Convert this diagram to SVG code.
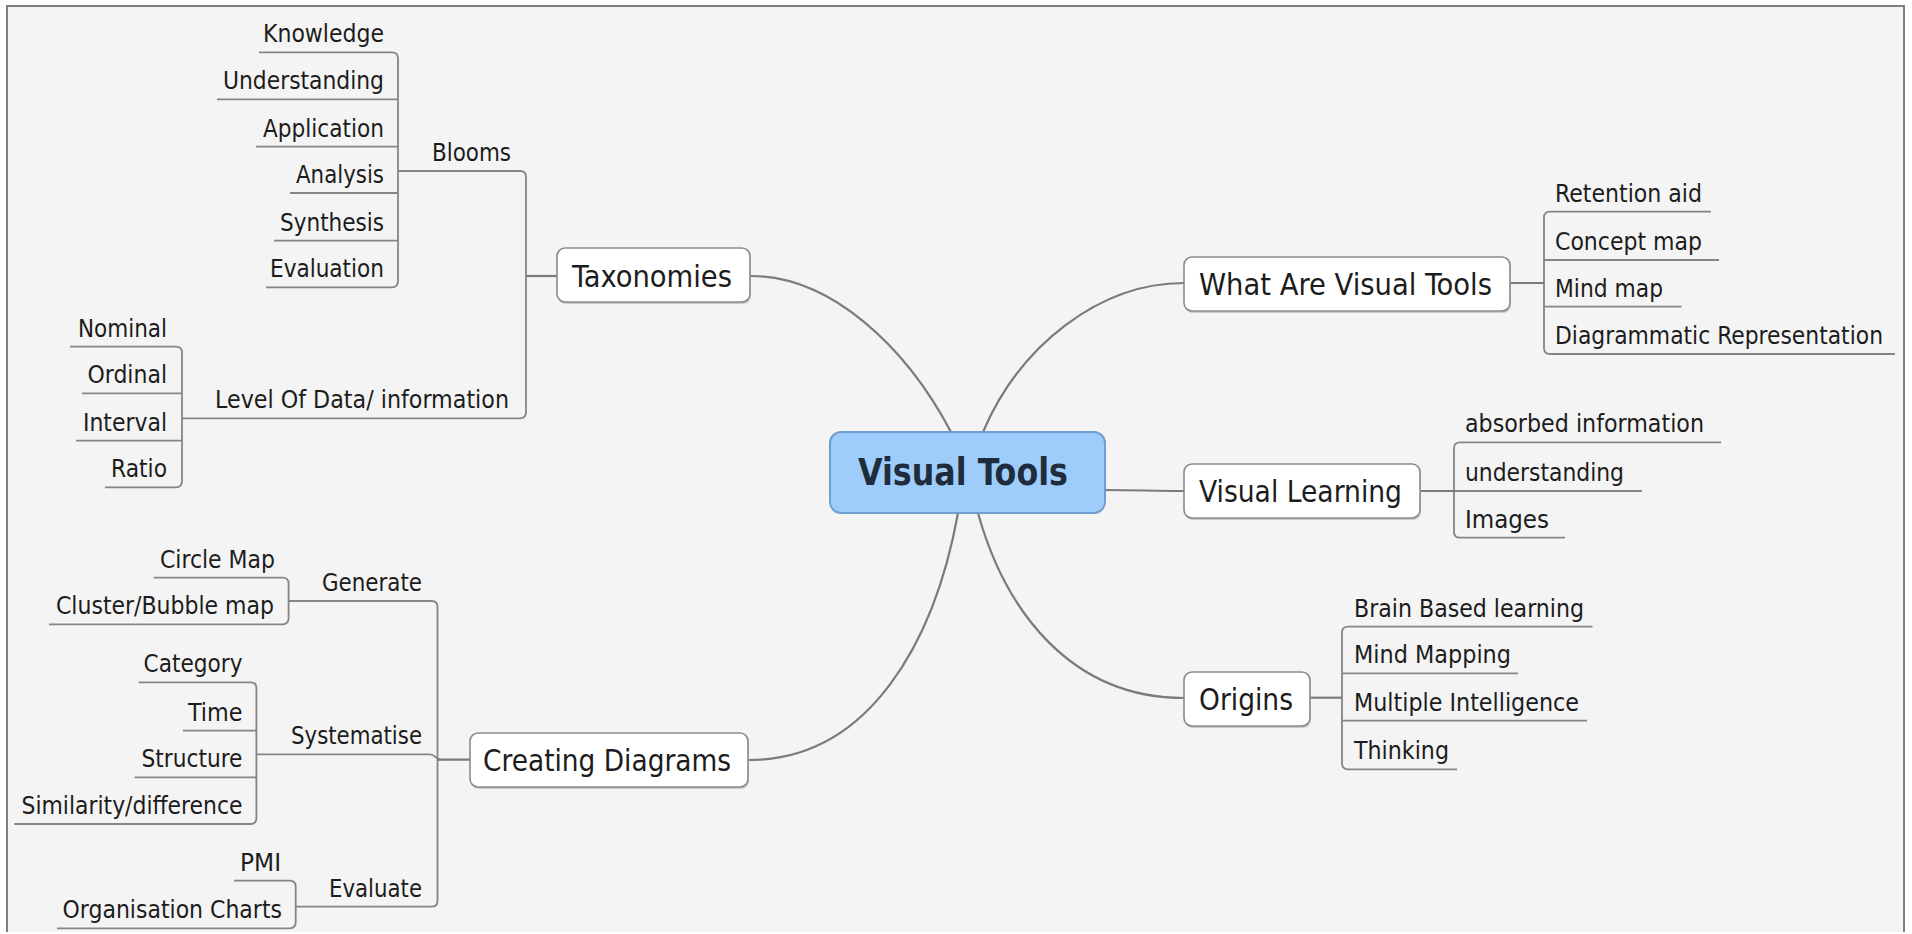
<svg xmlns="http://www.w3.org/2000/svg" width="1912" height="934" viewBox="0 0 1912 934">
<style>
text{font-family:"DejaVu Sans Condensed","DejaVu Sans","Liberation Sans",sans-serif;font-stretch:condensed;fill:#1c1c1c}
.lf{font-size:25px}
.lt{font-size:25px;text-anchor:end}
.mn{font-size:30px}
.ct{font-size:37px;font-weight:bold;fill:#1f2c3c;text-anchor:middle}
.ln{fill:none;stroke:#7b7b7b;stroke-width:2.2}
.ul{fill:none;stroke:#858585;stroke-width:1.8}
.box{fill:#ffffff;stroke:#8a8a8a;stroke-width:1.6}
.sh{fill:#c9c9c9}
</style>
<rect x="0" y="0" width="1912" height="934" fill="#ffffff"/>
<rect x="7" y="6" width="1897" height="926" fill="#f4f4f4"/>
<path d="M7 932 V6 H1904 V932" fill="none" stroke="#7f7f7f" stroke-width="2"/>
<g id="connectors">
<path class="ln" d="M951 432 C905 345 830 276 751 276"/>
<path class="ln" d="M983 432 C1020 345 1100 283 1184 283"/>
<path class="ln" d="M1105 490 C1140 490 1150 491 1184 491"/>
<path class="ln" d="M978 513 C1005 610 1070 698 1184 698"/>
<path class="ln" d="M958 513 C935 640 870 760 749 760"/>
<path class="ul" d="M259 52.3 H392 Q398 52.3 398 58.3 V281.3 Q398 287.3 392 287.3 H266"/>
<path class="ul" d="M217 99.3 H398 M256 146.7 H398 M290 193 H398 M274 240.7 H398"/>
<path class="ul" d="M398 171 H520 Q526 171 526 177 V412.3 Q526 418.3 520 418.3 H182"/>
<path class="ln" d="M526 276 H557"/>
<path class="ul" d="M70 346.7 H176 Q182 346.7 182 352.7 V481.3 Q182 487.3 176 487.3 H105"/>
<path class="ul" d="M82 393.3 H182 M76 440.7 H182"/>
<path class="ul" d="M288.6 601 H431.5 Q437.5 601 437.5 607 V900.7 Q437.5 906.7 431.5 906.7 H295.7"/>
<path class="ul" d="M256.4 754.3 H430 C435 754.3 436 759.7 441 759.7"/>
<path class="ln" d="M437.5 759.7 H470"/>
<path class="ul" d="M153.6 577.7 H282.6 Q288.6 577.7 288.6 583.7 V618.3 Q288.6 624.3 282.6 624.3 H49"/>
<path class="ul" d="M138.6 682.3 H250.4 Q256.4 682.3 256.4 688.3 V818 Q256.4 824 250.4 824 H14.3"/>
<path class="ul" d="M183 730.7 H256.4 M134.6 777.3 H256.4"/>
<path class="ul" d="M234 880.7 H289.7 Q295.7 880.7 295.7 886.7 V922.3 Q295.7 928.3 289.7 928.3 H57"/>
<path class="ul" d="M1711 211.7 H1550 Q1544 211.7 1544 217.7 V348 Q1544 354 1550 354 H1895"/>
<path class="ul" d="M1544 260 H1719 M1544 306.7 H1681.5"/>
<path class="ln" d="M1510 283 H1544"/>
<path class="ul" d="M1721 442.3 H1460 Q1454 442.3 1454 448.3 V531.7 Q1454 537.7 1460 537.7 H1565"/>
<path class="ul" d="M1454 491 H1642"/>
<path class="ln" d="M1420 491 H1454"/>
<path class="ul" d="M1592.5 626.7 H1348 Q1342 626.7 1342 632.7 V763.3 Q1342 769.3 1348 769.3 H1457"/>
<path class="ul" d="M1342 673.3 H1518 M1342 720.7 H1587"/>
<path class="ln" d="M1310 697.7 H1342"/>
</g>
<g id="center">
<rect x="830" y="432" width="275" height="81" rx="11" fill="#9fcdfb" stroke="#6f9fd0" stroke-width="2"/>
<text class="ct" x="963" y="485" textLength="210" lengthAdjust="spacingAndGlyphs">Visual Tools</text>
</g>
<g id="taxonomies">
<rect class="sh" x="558" y="250" width="193" height="54" rx="8"/>
<rect class="box" x="557" y="248" width="193" height="54" rx="8"/>
<text class="mn" x="572" y="287" textLength="160" lengthAdjust="spacingAndGlyphs">Taxonomies</text>
</g>
<g id="what-are-visual-tools">
<rect class="sh" x="1185" y="259" width="326" height="54" rx="8"/>
<rect class="box" x="1184" y="257" width="326" height="54" rx="8"/>
<text class="mn" x="1199" y="295" textLength="293" lengthAdjust="spacingAndGlyphs">What Are Visual Tools</text>
</g>
<g id="visual-learning">
<rect class="sh" x="1185" y="466" width="236" height="54" rx="8"/>
<rect class="box" x="1184" y="464" width="236" height="54" rx="8"/>
<text class="mn" x="1199" y="502" textLength="203" lengthAdjust="spacingAndGlyphs">Visual Learning</text>
</g>
<g id="origins">
<rect class="sh" x="1185" y="674" width="126" height="54" rx="8"/>
<rect class="box" x="1184" y="672" width="126" height="54" rx="8"/>
<text class="mn" x="1199" y="710" textLength="94" lengthAdjust="spacingAndGlyphs">Origins</text>
</g>
<g id="creating-diagrams">
<rect class="sh" x="471" y="735" width="278" height="54" rx="8"/>
<rect class="box" x="470" y="733" width="278" height="54" rx="8"/>
<text class="mn" x="483" y="771" textLength="248" lengthAdjust="spacingAndGlyphs">Creating Diagrams</text>
</g>
<g id="blooms"><text class="lt" x="511" y="161" textLength="79" lengthAdjust="spacingAndGlyphs">Blooms</text></g>
<g id="knowledge"><text class="lt" x="384" y="42.3" textLength="121" lengthAdjust="spacingAndGlyphs">Knowledge</text></g>
<g id="understanding-b"><text class="lt" x="384" y="89.3" textLength="161" lengthAdjust="spacingAndGlyphs">Understanding</text></g>
<g id="application"><text class="lt" x="384" y="136.7" textLength="121" lengthAdjust="spacingAndGlyphs">Application</text></g>
<g id="analysis"><text class="lt" x="384" y="183" textLength="88" lengthAdjust="spacingAndGlyphs">Analysis</text></g>
<g id="synthesis"><text class="lt" x="384" y="230.7" textLength="104" lengthAdjust="spacingAndGlyphs">Synthesis</text></g>
<g id="evaluation"><text class="lt" x="384" y="277.3" textLength="114" lengthAdjust="spacingAndGlyphs">Evaluation</text></g>
<g id="level-of-data"><text class="lt" x="509" y="408.3" textLength="294" lengthAdjust="spacingAndGlyphs">Level Of Data/ information</text></g>
<g id="nominal"><text class="lt" x="167" y="336.7" textLength="89" lengthAdjust="spacingAndGlyphs">Nominal</text></g>
<g id="ordinal"><text class="lt" x="167" y="383.3" textLength="79.5" lengthAdjust="spacingAndGlyphs">Ordinal</text></g>
<g id="interval"><text class="lt" x="167" y="430.7" textLength="84" lengthAdjust="spacingAndGlyphs">Interval</text></g>
<g id="ratio"><text class="lt" x="167" y="477.3" textLength="56" lengthAdjust="spacingAndGlyphs">Ratio</text></g>
<g id="generate"><text class="lt" x="422" y="591" textLength="100" lengthAdjust="spacingAndGlyphs">Generate</text></g>
<g id="circle-map"><text class="lt" x="275" y="567.7" textLength="115" lengthAdjust="spacingAndGlyphs">Circle Map</text></g>
<g id="cluster-bubble-map"><text class="lt" x="274" y="614.3" textLength="218" lengthAdjust="spacingAndGlyphs">Cluster/Bubble map</text></g>
<g id="systematise"><text class="lt" x="422" y="744.3" textLength="131" lengthAdjust="spacingAndGlyphs">Systematise</text></g>
<g id="category"><text class="lt" x="242.5" y="672.3" textLength="99" lengthAdjust="spacingAndGlyphs">Category</text></g>
<g id="time"><text class="lt" x="242.5" y="720.7" textLength="54.5" lengthAdjust="spacingAndGlyphs">Time</text></g>
<g id="structure"><text class="lt" x="242.5" y="767.3" textLength="101" lengthAdjust="spacingAndGlyphs">Structure</text></g>
<g id="similarity-difference"><text class="lt" x="242.5" y="814" textLength="221" lengthAdjust="spacingAndGlyphs">Similarity/difference</text></g>
<g id="evaluate"><text class="lt" x="422" y="896.7" textLength="93" lengthAdjust="spacingAndGlyphs">Evaluate</text></g>
<g id="pmi"><text class="lt" x="281" y="870.7" textLength="41" lengthAdjust="spacingAndGlyphs">PMI</text></g>
<g id="organisation-charts"><text class="lt" x="282" y="918.3" textLength="219.5" lengthAdjust="spacingAndGlyphs">Organisation Charts</text></g>
<g id="retention-aid"><text class="lf" x="1555" y="201.7" textLength="147" lengthAdjust="spacingAndGlyphs">Retention aid</text></g>
<g id="concept-map"><text class="lf" x="1555" y="250" textLength="147" lengthAdjust="spacingAndGlyphs">Concept map</text></g>
<g id="mind-map"><text class="lf" x="1555" y="296.7" textLength="108" lengthAdjust="spacingAndGlyphs">Mind map</text></g>
<g id="diagrammatic-representation"><text class="lf" x="1555" y="344" textLength="328" lengthAdjust="spacingAndGlyphs">Diagrammatic Representation</text></g>
<g id="absorbed-information"><text class="lf" x="1465" y="432.3" textLength="239" lengthAdjust="spacingAndGlyphs">absorbed information</text></g>
<g id="understanding-v"><text class="lf" x="1465" y="481" textLength="159" lengthAdjust="spacingAndGlyphs">understanding</text></g>
<g id="images"><text class="lf" x="1465" y="527.7" textLength="84" lengthAdjust="spacingAndGlyphs">Images</text></g>
<g id="brain-based-learning"><text class="lf" x="1354" y="616.7" textLength="230" lengthAdjust="spacingAndGlyphs">Brain Based learning</text></g>
<g id="mind-mapping"><text class="lf" x="1354" y="663.3" textLength="157" lengthAdjust="spacingAndGlyphs">Mind Mapping</text></g>
<g id="multiple-intelligence"><text class="lf" x="1354" y="710.7" textLength="225" lengthAdjust="spacingAndGlyphs">Multiple Intelligence</text></g>
<g id="thinking"><text class="lf" x="1354" y="759.3" textLength="95" lengthAdjust="spacingAndGlyphs">Thinking</text></g>
</svg>
